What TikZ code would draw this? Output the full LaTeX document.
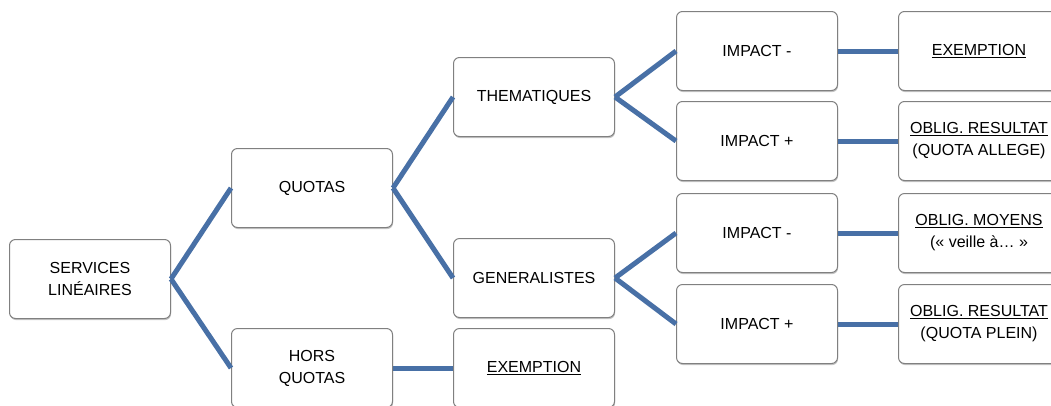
\documentclass[tikz,border=0pt]{standalone}
\usepackage{fontspec}
\setmainfont{Liberation Sans}
\usetikzlibrary{shadows}

\definecolor{linkblue}{RGB}{72,112,166}
\definecolor{boxgray}{RGB}{128,128,128}

\tikzset{
  box/.style={draw=boxgray, line width=1pt, fill=white, rounded corners=6pt,
    minimum width=161pt, minimum height=79pt, align=center,
    font=\fontsize{16}{22}\selectfont,
    drop shadow={shadow xshift=0.6pt, shadow yshift=-1.6pt, fill=black!45}},
  link/.style={draw=linkblue, line width=5pt}
}

\begin{document}
\begin{tikzpicture}[x=1pt,y=-1pt]

\useasboundingbox (0,0) rectangle (1051,405);
\clip (0,0) rectangle (1051,405);

% Level 1
\node[box] (sl) at (90,279) {SERVICES\\LIN\'EAIRES};

% Level 2
\node[box] (quo) at (312,188) {QUOTAS};
\node[box] (hq)  at (312,368) {HORS\\QUOTAS};

% Level 3
\node[box] (them) at (534,97)  {THEMATIQUES};
\node[box] (gen)  at (534,278) {GENERALISTES};
\node[box] (ex1)  at (534,368) {\underline{EXEMPTION}};

% Level 4
\node[box] (im1) at (757,51)  {IMPACT -};
\node[box] (ip1) at (757,141) {IMPACT +};
\node[box] (im2) at (757,233) {IMPACT -};
\node[box] (ip2) at (757,324) {IMPACT +};

% Level 5
\node[box] (ex2) at (979,51)  {\underline{EXEMPTION}};
\node[box] (or1) at (979,141) {\underline{OBLIG. RESULTAT}\\(QUOTA ALLEGE)};
\node[box] (om)  at (979,233) {\underline{OBLIG. MOYENS}\\(« veille à… »};
\node[box] (or2) at (979,324) {\underline{OBLIG. RESULTAT}\\(QUOTA PLEIN)};

% Links
\draw[link] (sl.east) -- (quo.west);
\draw[link] (sl.east) -- (hq.west);
\draw[link] (quo.east) -- (them.west);
\draw[link] (quo.east) -- (gen.west);
\draw[link] (hq.east) -- (ex1.west);
\draw[link] (them.east) -- (im1.west);
\draw[link] (them.east) -- (ip1.west);
\draw[link] (gen.east) -- (im2.west);
\draw[link] (gen.east) -- (ip2.west);
\draw[link] (im1.east) -- (ex2.west);
\draw[link] (ip1.east) -- (or1.west);
\draw[link] (im2.east) -- (om.west);
\draw[link] (ip2.east) -- (or2.west);

\end{tikzpicture}
\end{document}
